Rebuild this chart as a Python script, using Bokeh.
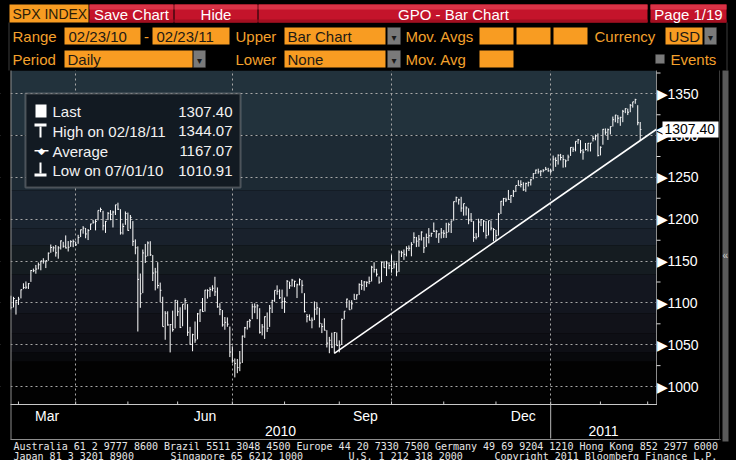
import numpy as np
import pandas as pd
from bokeh.plotting import figure
from bokeh.models import (Range1d, FixedTicker, Grid, BoxAnnotation, Label, ColumnDataSource)
from bokeh.embed import file_html
from bokeh.resources import INLINE

# ---------------- data (SPX daily bars, 02/23/10 - 02/23/11) ----------------
security = "SPX INDEX"
start_date = "2010-02-23"
end_date = "2011-02-23"
holidays = ["2010-04-02", "2010-05-31", "2010-07-05", "2010-09-06",
            "2010-11-25", "2010-12-24", "2011-01-17", "2011-02-21"]

close = [
    1094.60, 1105.24, 1102.94, 1104.49,
    1115.71, 1118.31, 1118.79, 1122.97, 1138.70, 1138.50, 1140.45, 1145.61, 1150.24, 1149.99, 1150.51, 1159.46,
    1166.21, 1165.83, 1159.90, 1165.81, 1174.17, 1167.72, 1165.73, 1166.59, 1173.22, 1173.27, 1169.43,
    1178.10, 1187.44, 1189.44, 1182.45, 1186.44, 1194.37, 1196.48, 1197.30, 1210.65, 1211.67, 1192.13,
    1197.52, 1207.17, 1205.94, 1208.67, 1217.28, 1212.05, 1183.71, 1191.36, 1206.78, 1186.69,
    1202.26, 1173.60, 1165.90, 1128.15, 1110.88, 1159.73, 1155.79, 1171.67, 1157.44, 1135.68,
    1136.94, 1120.80, 1115.05, 1071.59, 1087.69, 1073.65, 1074.03, 1067.95, 1103.06, 1089.41,
    1070.71, 1098.38, 1102.83, 1064.88, 1050.47, 1062.00, 1055.69, 1086.84, 1091.60, 1089.63, 1115.23,
    1114.61, 1116.04, 1117.51, 1113.20, 1095.31, 1092.04, 1073.69, 1076.76, 1074.57, 1041.24, 1030.71,
    1027.37, 1022.58, 1028.06, 1060.27, 1070.25, 1077.96, 1078.75, 1095.34, 1095.17, 1096.48, 1064.88,
    1071.25, 1083.48, 1069.59, 1093.67, 1102.66, 1115.01, 1113.84, 1106.13, 1101.53, 1101.60,
    1125.86, 1120.46, 1127.24, 1125.81, 1121.64, 1127.79, 1121.06, 1089.47, 1083.61, 1079.25, 1079.38,
    1092.54, 1094.16, 1075.63, 1071.69, 1067.36, 1051.87, 1055.33, 1047.22, 1064.59, 1048.92, 1049.33,
    1080.29, 1090.10, 1104.51, 1091.84, 1098.87, 1104.18, 1109.55, 1121.90, 1121.10, 1125.07, 1124.66,
    1125.59, 1142.71, 1139.78, 1134.28, 1124.83, 1148.67, 1142.16, 1147.70, 1144.73, 1141.20,
    1146.24, 1137.03, 1160.75, 1159.97, 1158.06, 1165.15, 1165.32, 1169.77, 1178.10, 1173.81, 1176.19,
    1184.71, 1165.90, 1178.17, 1180.26, 1183.08, 1185.62, 1185.64, 1182.45, 1183.78, 1183.26,
    1184.38, 1193.57, 1197.96, 1221.06, 1225.85, 1223.25, 1213.40, 1218.71, 1213.54, 1199.21, 1197.75,
    1178.34, 1178.59, 1196.69, 1199.73, 1197.84, 1180.73, 1198.35, 1189.40, 1187.76, 1180.55,
    1206.07, 1221.53, 1224.71, 1223.12, 1223.75, 1228.28, 1233.00, 1240.40, 1240.46, 1241.59, 1235.23,
    1242.87, 1243.91, 1247.08, 1254.60, 1258.84, 1256.77, 1257.54, 1258.51, 1259.78, 1257.88, 1257.64,
    1271.87, 1270.20, 1276.56, 1273.85, 1271.50, 1269.75, 1274.48, 1285.96, 1283.76, 1293.24,
    1295.02, 1281.92, 1280.26, 1283.35, 1290.84, 1291.18, 1296.63, 1299.54, 1276.34, 1286.12,
    1307.59, 1304.03, 1307.10, 1310.87, 1319.05, 1324.57, 1320.88, 1321.87, 1329.15, 1332.32,
    1328.01, 1336.32, 1340.43, 1343.01, 1315.44, 1307.40,
]
high = [
    1108.58, 1107.24, 1103.50, 1107.24,
    1116.11, 1123.46, 1125.64, 1123.73, 1139.38, 1141.05, 1145.37, 1148.26, 1150.24, 1153.41, 1150.51, 1160.28,
    1169.84, 1167.77, 1169.20, 1167.82, 1174.72, 1173.04, 1180.69, 1173.93, 1174.85, 1175.72, 1173.27,
    1181.43, 1187.73, 1191.80, 1189.60, 1188.29, 1194.66, 1199.20, 1199.98, 1210.65, 1213.92, 1210.17,
    1197.87, 1208.58, 1210.99, 1210.27, 1217.28, 1219.80, 1212.05, 1195.05, 1209.36, 1207.99,
    1205.13, 1197.85, 1175.95, 1167.58, 1135.13, 1163.85, 1170.48, 1173.57, 1173.74, 1157.19,
    1141.88, 1148.66, 1124.27, 1107.34, 1090.16, 1089.95, 1074.75, 1090.75, 1103.52, 1103.06,
    1094.77, 1098.38, 1105.67, 1098.56, 1071.36, 1063.13, 1077.74, 1087.96, 1092.25, 1105.87, 1115.59,
    1116.27, 1118.74, 1121.01, 1131.23, 1118.50, 1099.64, 1091.45, 1083.11, 1082.60, 1071.73, 1048.08,
    1033.58, 1032.95, 1042.50, 1060.89, 1071.25, 1078.16, 1080.78, 1099.08, 1099.46, 1098.43, 1093.67,
    1074.70, 1083.94, 1088.59, 1097.50, 1103.73, 1115.01, 1120.95, 1116.11, 1115.90, 1106.44,
    1127.30, 1125.44, 1128.75, 1126.56, 1123.00, 1129.24, 1127.16, 1111.64, 1086.72, 1086.25, 1082.61,
    1101.73, 1099.77, 1094.16, 1075.63, 1081.58, 1067.36, 1059.38, 1064.38, 1065.15, 1064.59, 1055.14,
    1081.30, 1090.10, 1105.10, 1103.11, 1103.26, 1110.88, 1110.27, 1123.35, 1127.36, 1126.00, 1125.62,
    1131.47, 1144.38, 1148.59, 1140.76, 1131.58, 1148.90, 1149.92, 1150.30, 1148.63, 1157.16,
    1150.45, 1148.16, 1162.76, 1162.33, 1163.87, 1167.73, 1168.68, 1172.58, 1184.38, 1178.89, 1181.20,
    1185.53, 1178.78, 1182.94, 1189.43, 1183.93, 1196.14, 1187.11, 1183.24, 1189.53, 1187.01,
    1195.81, 1195.88, 1198.30, 1221.25, 1227.08, 1224.57, 1226.84, 1218.75, 1215.45, 1213.04, 1207.43,
    1197.75, 1183.56, 1200.65, 1200.17, 1198.94, 1197.84, 1198.35, 1198.59, 1189.40, 1187.40,
    1207.61, 1221.87, 1225.57, 1225.73, 1235.05, 1228.93, 1235.06, 1240.40, 1246.73, 1246.59, 1244.25,
    1243.78, 1245.09, 1248.29, 1255.00, 1259.39, 1260.56, 1258.59, 1259.90, 1262.60, 1261.47, 1259.92,
    1276.17, 1274.12, 1277.63, 1278.17, 1276.83, 1271.52, 1277.25, 1286.17, 1286.64, 1293.24,
    1296.06, 1294.60, 1283.93, 1291.21, 1291.26, 1291.26, 1299.74, 1301.29, 1302.67, 1287.17,
    1308.05, 1308.60, 1308.48, 1311.00, 1322.85, 1324.87, 1324.57, 1322.55, 1330.79, 1332.63,
    1332.32, 1337.81, 1340.43, 1344.07, 1336.41, 1316.28,
]
low = [
    1092.18, 1094.60, 1086.02, 1097.56,
    1105.36, 1116.51, 1116.58, 1116.66, 1125.12, 1136.77, 1134.90, 1140.09, 1138.99, 1146.97, 1141.64, 1150.35,
    1159.94, 1161.16, 1155.33, 1152.88, 1163.83, 1166.01, 1165.09, 1161.48, 1167.02, 1166.63, 1168.12,
    1170.69, 1178.71, 1182.77, 1177.25, 1175.12, 1187.15, 1194.71, 1186.72, 1198.69, 1208.50, 1186.77,
    1183.68, 1199.04, 1198.85, 1190.19, 1205.10, 1211.07, 1181.62, 1181.81, 1193.39, 1186.32,
    1188.58, 1168.12, 1158.15, 1065.79, 1094.15, 1111.67, 1147.71, 1155.79, 1156.14, 1126.14,
    1114.96, 1117.20, 1100.66, 1071.58, 1055.90, 1072.70, 1040.78, 1065.59, 1069.50, 1084.22,
    1069.89, 1072.03, 1091.81, 1060.50, 1049.86, 1042.17, 1052.25, 1056.41, 1077.12, 1089.30, 1089.63,
    1105.14, 1107.13, 1113.93, 1108.24, 1094.18, 1085.31, 1071.59, 1067.89, 1071.45, 1035.18, 1028.33,
    1010.91, 1015.93, 1018.35, 1028.15, 1058.24, 1068.10, 1070.45, 1080.53, 1087.68, 1080.53, 1063.32,
    1061.11, 1056.88, 1065.25, 1071.30, 1087.88, 1101.30, 1109.78, 1104.59, 1092.82, 1088.01,
    1107.66, 1116.76, 1119.46, 1118.81, 1105.78, 1120.91, 1111.58, 1088.56, 1076.69, 1079.00, 1069.62,
    1079.38, 1085.76, 1070.58, 1063.91, 1067.08, 1046.68, 1039.83, 1045.94, 1039.70, 1048.79, 1040.88,
    1049.72, 1080.39, 1094.25, 1091.84, 1092.19, 1103.92, 1103.92, 1109.55, 1115.58, 1114.63, 1118.88,
    1122.43, 1125.60, 1136.22, 1131.47, 1122.86, 1124.83, 1142.00, 1132.09, 1140.26, 1136.08,
    1141.20, 1131.87, 1137.03, 1154.85, 1151.41, 1155.58, 1162.02, 1155.71, 1171.32, 1166.71, 1167.12,
    1174.55, 1159.71, 1166.74, 1171.17, 1178.99, 1184.74, 1177.72, 1171.70, 1177.10, 1177.72,
    1177.65, 1184.38, 1183.56, 1198.34, 1220.29, 1217.55, 1208.94, 1204.33, 1204.49, 1194.08, 1197.15,
    1173.00, 1175.82, 1178.59, 1191.81, 1184.58, 1176.91, 1180.73, 1186.71, 1173.64, 1174.14,
    1180.55, 1206.35, 1216.10, 1220.67, 1223.25, 1219.50, 1226.65, 1232.58, 1240.34, 1238.17, 1234.01,
    1232.85, 1239.20, 1240.41, 1247.80, 1254.19, 1254.46, 1251.48, 1256.22, 1258.51, 1256.88, 1254.59,
    1257.62, 1262.66, 1265.36, 1270.43, 1261.70, 1262.18, 1269.62, 1275.74, 1280.47, 1281.24,
    1290.16, 1278.92, 1271.26, 1282.07, 1281.07, 1281.07, 1293.05, 1294.41, 1275.10, 1276.34,
    1289.14, 1301.01, 1294.83, 1301.42, 1310.87, 1316.03, 1314.89, 1311.74, 1316.08, 1326.90,
    1324.61, 1328.01, 1333.50, 1338.12, 1312.42, 1294.26,
]
avg_value = 1167.07                                   # shown in the legend
trend_anchor_dates = ["2010-08-27", "2010-11-30"]     # trend line through these two lows
price_ticks = [1000, 1050, 1100, 1150, 1200, 1250, 1300, 1350]
price_minor = [1025, 1075, 1125, 1175, 1225, 1275, 1325, 1375]
label_months = [3, 6, 9, 12]
grid_months = [1, 4, 7, 10]

footer_line1 = ("Australia 61 2 9777 8600 Brazil 5511 3048 4500 Europe 44 20 7330 7500 "
                "Germany 49 69 9204 1210 Hong Kong 852 2977 6000")
footer_line2 = ["Japan 81 3 3201 8900", "Singapore 65 6212 1000", "U.S. 1 212 318 2000",
                "Copyright 2011 Bloomberg Finance L.P."]

# ---------------- page geometry / styling ----------------
W, H = 736, 460
FL, FR, FT, FB = 10, 656, 70, 404            # chart area edges (page px)
FONT = "Liberation Sans"
ORANGE = "#f89c22"
ORANGE_TXT = "#f4a12c"
RED = "#c4142b"
PX_PER_BAR = 2.487
x_start = -0.2                                # bar index at the chart's left edge
x_end = x_start + (FR - FL) / PX_PER_BAR
y_lo, y_hi = 978.5, 1377.9                    # price at chart bottom / top
KY = (FB - FT) / (y_hi - y_lo)

# whole canvas is the plot frame; ranges are set so the chart area lands at FL..FR, FT..FB
xr = Range1d(x_start - FL / PX_PER_BAR, x_start + (W - FL) / PX_PER_BAR)
yr = Range1d(y_lo - (H - FB) / KY, y_hi + FT / KY)

cal = pd.bdate_range(start_date, "2011-03-31")
cal = cal[~cal.isin(pd.to_datetime(holidays))]
dates = cal[:len(close)]
idx = np.arange(len(close))
close_a, high_a, low_a = np.array(close), np.array(high), np.array(low)

per = cal.to_period("M")
firsts = [i for i in range(1, len(cal)) if per[i] != per[i - 1]]
bnd = {f: f - 1.0 for f in firsts}
month_bounds = [bnd[f] for f in firsts if bnd[f] <= x_end]
grid_bounds = [bnd[f] for f in firsts if bnd[f] <= x_end and cal[f].month in grid_months]
month_label = []
for k in range(len(firsts) - 1):
    a, b = firsts[k], firsts[k + 1]
    if cal[a].month in label_months and bnd[b] <= x_end:
        month_label.append(((bnd[a] + bnd[b]) / 2, cal[a].strftime("%b")))
first_mar = 0
if cal[0].month in label_months:
    month_label.append(((x_start + bnd[firsts[0]]) / 2, cal[0].strftime("%b")))
jan_f = [f for f in firsts if cal[f].month == 1][0]
jan_b = bnd[jan_f]
year_label = [((x_start + jan_b) / 2, str(cal[0].year)), ((jan_b + x_end) / 2, str(cal[jan_f].year))]

p = figure(width=W, height=H, x_range=xr, y_range=yr, x_axis_type=None, y_axis_type=None,
           toolbar_location=None, output_backend="svg", min_border=0,
           background_fill_color="#000000", border_fill_color="#000000", outline_line_color=None)


def fy(py):
    return H - py


def sbox(l, r, t, b, **kw):
    kw.setdefault("line_color", None)
    kw.setdefault("fill_alpha", 1.0)
    return BoxAnnotation(left=l, right=r, top=fy(t), bottom=fy(b),
                         left_units="screen", right_units="screen",
                         top_units="screen", bottom_units="screen", **kw)


def slabel(x, y, text, **kw):
    kw.setdefault("text_font", FONT)
    kw.setdefault("text_baseline", "middle")
    return Label(x=x, y=fy(y), x_units="screen", y_units="screen", text=text, **kw)


# chart background bands
bands = [(70, 135, "#22323c"), (135, 190, "#1d2a34"), (190, 228, "#1a2430"),
         (228, 245, "#19212c"), (245, 274, "#151c21"), (274, 313, "#13161f"),
         (313, 333, "#111219"), (333, 352, "#0e0f15"), (352, 361, "#08090c"), (361, 404, "#020202")]
for t, b, c in bands:
    p.add_layout(sbox(FL, FR, t, b, fill_color=c, level="underlay"))

p.add_layout(Grid(dimension=1, ticker=FixedTicker(ticks=price_ticks), grid_line_color="#a8a8a8",
                  grid_line_dash="2 3", grid_line_width=1))
p.add_layout(Grid(dimension=0, ticker=FixedTicker(ticks=grid_bounds), grid_line_color="#a8a8a8",
                  grid_line_dash="2 3", grid_line_width=1))
# keep the grid inside the chart area
for l, r, t, b in [(0, W, 0, FT), (0, W, FB, H), (0, FL, 0, H), (FR, W, 0, H)]:
    p.add_layout(sbox(l, r, t, b, fill_color="#000000", level="underlay"))

# price bars (high-low with close tick) and trend line
src = ColumnDataSource(dict(x=idx, xr=idx + 0.5, hi=high_a, lo=low_a, cl=close_a))
p.segment(x0="x", y0="lo", x1="x", y1="hi", source=src, line_color="#ffffff", line_width=1)
p.segment(x0="x", y0="cl", x1="xr", y1="cl", source=src, line_color="#ffffff", line_width=1)

ia = dates.get_loc(pd.Timestamp(trend_anchor_dates[0]))
ib = dates.get_loc(pd.Timestamp(trend_anchor_dates[1]))
slope = (low_a[ib] - low_a[ia]) / (ib - ia)
p.line(x=[ia, x_end], y=[low_a[ia], low_a[ia] + slope * (x_end - ia)],
       line_color="#ffffff", line_width=1.6)

# chart borders and axis lines
p.add_layout(sbox(FL, FL + 1, FT, 439, fill_color="#8c8c8c"))
p.add_layout(sbox(FR - 0.5, FR + 0.5, FT, FB, fill_color="#8c8c8c"))
p.add_layout(sbox(FL, FR + 0.5, FB - 0.5, FB + 0.5, fill_color="#c8c8c8"))
p.add_layout(sbox(FL, 720, 438.5, 439.5, fill_color="#8c8c8c"))
p.add_layout(sbox(718.5, 719.5, FT, 439, fill_color="#3a3a3a"))
p.add_layout(sbox(722, 728, FT, 441, fill_color="#5a5a5a"))
p.add_layout(slabel(722, 255, "\u00AB", text_color="#d0d0d0", text_font_size="10px"))

# price axis (right)
for v in price_ticks:
    p.add_layout(Label(x=FR, y=v, x_units="screen", y_units="data", text="\u25B6" + str(v),
                       text_color="#ffffff", text_font=FONT, text_font_size="14px",
                       text_baseline="middle"))
for v in price_minor:
    p.add_layout(BoxAnnotation(left=FR, right=FR + 4, top=v + 0.6, bottom=v - 0.6,
                               left_units="screen", right_units="screen",
                               fill_color="#d8d8d8", fill_alpha=1.0, line_color=None))

# time axis (bottom)
for bx in month_bounds:
    p.add_layout(BoxAnnotation(left=bx - 0.2, right=bx + 0.2, top=fy(FB - 3), bottom=fy(FB),
                               top_units="screen", bottom_units="screen",
                               fill_color="#d0d0d0", fill_alpha=1.0, line_color=None))
p.add_layout(BoxAnnotation(left=jan_b - 0.2, right=jan_b + 0.2, top=fy(FB), bottom=fy(438),
                           top_units="screen", bottom_units="screen",
                           fill_color="#b8b8b8", fill_alpha=1.0, line_color=None))
for xv, t in month_label:
    p.add_layout(Label(x=xv, y=fy(415.5), y_units="screen", text=t, text_color="#ffffff",
                       text_font=FONT, text_font_size="14px", text_align="center",
                       text_baseline="middle"))
for xv, t in year_label:
    p.add_layout(Label(x=xv, y=fy(430), y_units="screen", text=t, text_color="#ffffff",
                       text_font=FONT, text_font_size="14px", text_align="center",
                       text_baseline="middle"))

# legend box
imax = int(np.argmax(high_a))
imin = int(np.argmin(low_a))
p.add_layout(sbox(25, 240, 93, 187, fill_color="#121a22", line_color="#c8c8c8", line_width=2))
leg_rows = [111, 130.5, 150.5, 170]
leg_text = ["Last", "High on " + dates[imax].strftime("%m/%d/%y"), "Average",
            "Low on " + dates[imin].strftime("%m/%d/%y")]
leg_vals = [close_a[-1], high_a[imax], avg_value, low_a[imin]]
for yy, t, v in zip(leg_rows, leg_text, leg_vals):
    p.add_layout(slabel(52, yy, t, text_color="#f2f2f2", text_font_size="15px"))
    p.add_layout(slabel(232, yy, f"{v:.2f}", text_color="#f2f2f2", text_font_size="15px",
                        text_align="right"))
p.add_layout(sbox(35, 46, 104, 117, fill_color="#ffffff"))
p.add_layout(sbox(34, 46, 123, 126, fill_color="#ffffff"))
p.add_layout(sbox(39, 41, 126, 137, fill_color="#ffffff"))
p.add_layout(sbox(34, 48, 149.5, 151, fill_color="#ffffff"))
p.add_layout(slabel(41, 150.5, "\u25C6", text_color="#ffffff", text_font_size="9px",
                    text_align="center"))
p.add_layout(sbox(39, 41, 162, 173, fill_color="#ffffff"))
p.add_layout(sbox(34, 46, 173, 176, fill_color="#ffffff"))

# last-price callout
last = close_a[-1]
p.add_layout(Label(x=655, y=last, x_units="screen", y_units="data", text="\u25C0",
                   text_color="#ffffff", text_font_size="11px", text_baseline="middle"))
p.add_layout(BoxAnnotation(left=662, right=718, top=last + 8 / KY, bottom=last - 8 / KY,
                           left_units="screen", right_units="screen",
                           fill_color="#ffffff", fill_alpha=1.0, line_color=None))
p.add_layout(Label(x=664, y=last, x_units="screen", y_units="data", text=f"{last:.2f}",
                   text_color="#000000", text_font=FONT, text_font_size="14px",
                   text_baseline="middle"))

# ---------------- header (terminal toolbar) ----------------
p.add_layout(sbox(8, 9, 22, 70, fill_color="#3c3c3c"))
p.add_layout(sbox(726, 727, 22, 70, fill_color="#3c3c3c"))
for a, b in [(89, 173), (174, 257), (258, 647), (650, 726)]:
    p.add_layout(sbox(a, b, 4, 22, fill_color=RED))
    p.add_layout(sbox(a, b, 4, 9, fill_color="#d93246"))
    p.add_layout(sbox(a, b, 19, 22, fill_color="#a30f21"))
for l, r, t, b in [(9, 88, 4, 22), (64, 140, 27, 44), (152, 229, 27, 44), (284, 385, 27, 44),
                   (479, 513, 27, 44), (516, 550, 27, 44), (553, 587, 27, 44), (665, 702, 27, 44),
                   (64, 192, 50, 67), (284, 385, 50, 67), (479, 513, 50, 67)]:
    p.add_layout(sbox(l, r, t, b, fill_color=ORANGE))
for l, r, t, b in [(387, 400, 27, 44), (704, 716, 27, 44), (193, 205, 50, 67), (387, 400, 50, 67)]:
    p.add_layout(sbox(l, r, t, b, fill_color="#7a7a7a", line_color="#4a4a4a"))
    p.add_layout(slabel((l + r) / 2, (t + b) / 2 + 1, "\u25BE", text_color="#1a1a1a",
                        text_font="DejaVu Sans", text_font_size="10px", text_align="center"))
p.add_layout(sbox(655, 664, 54, 63, fill_color="#7a7a7a", line_color="#4a4a4a"))

for xv, t in [(131, "Save Chart"), (215.5, "Hide"), (453, "GPO - Bar Chart"), (688, "Page 1/19")]:
    p.add_layout(slabel(xv, 13.5, t, text_color="#ffffff", text_font_size="15px",
                        text_align="center"))
p.add_layout(slabel(12, 13.5, security, text_color="#2a1c08", text_font_size="14px"))
for xv, yv, t in [(12, 36, "Range"), (235, 36, "Upper"), (405, 36, "Mov. Avgs"),
                  (594, 36, "Currency"), (12, 59, "Period"), (235, 59, "Lower"),
                  (405, 59, "Mov. Avg"), (670, 59, "Events")]:
    p.add_layout(slabel(xv, yv, t, text_color=ORANGE_TXT, text_font_size="15px"))
p.add_layout(slabel(146, 36, "-", text_color=ORANGE_TXT, text_font_size="15px",
                    text_align="center"))
for xv, yv, t in [(68, 36, dates[0].strftime("%m/%d/%y")), (156, 36, dates[-1].strftime("%m/%d/%y")),
                  (287, 36, "Bar Chart"), (668, 36, "USD"), (67, 59, "Daily"), (287, 59, "None")]:
    p.add_layout(slabel(xv, yv, t, text_color="#1e1a14", text_font_size="15px"))

# ---------------- footer ----------------
p.add_layout(slabel(13, 445.5, footer_line1, text_color="#e6e6e6",
                    text_font="DejaVu Sans Mono", text_font_size="10px"))
for xv, t in zip([13, 170, 348, 494], footer_line2):
    p.add_layout(slabel(xv, 455.5, t, text_color="#e6e6e6",
                        text_font="DejaVu Sans Mono", text_font_size="10px"))

TEMPLATE = """{% block postamble %}<style>html, body { margin: 0 !important; padding: 0 !important; background: #000000; overflow: hidden; }</style>{% endblock %}"""
open("out.html", "w").write(file_html(p, INLINE, template=TEMPLATE))
